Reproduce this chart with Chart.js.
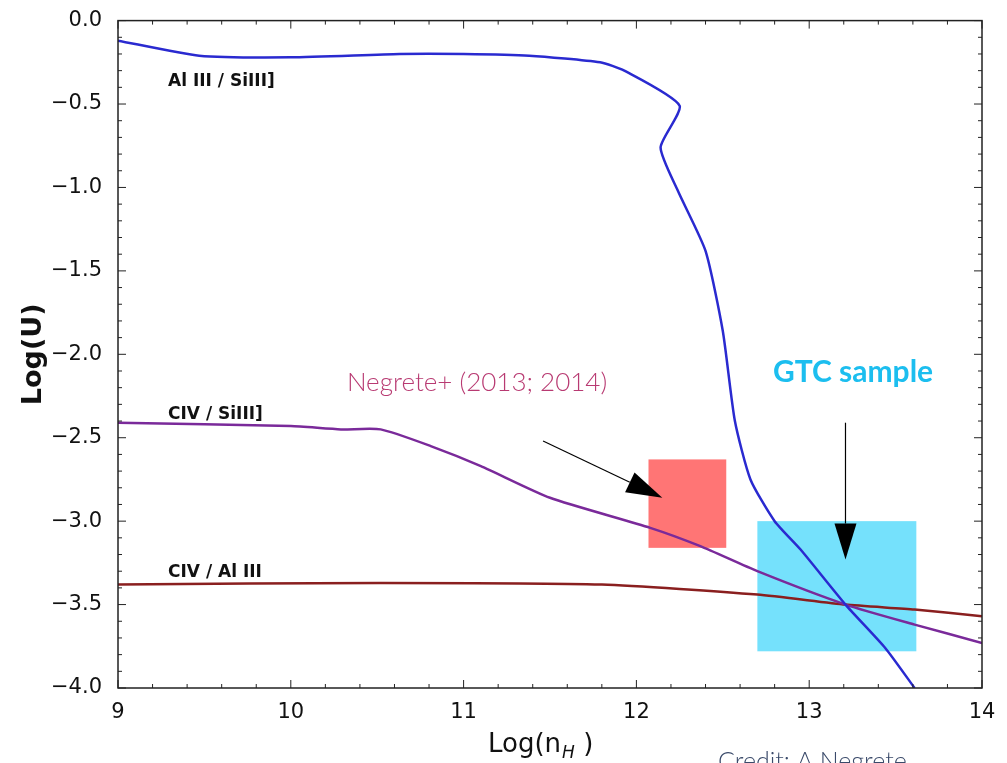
<!DOCTYPE html>
<html>
<head>
<meta charset="utf-8">
<script src="https://cdn.jsdelivr.net/npm/chart.js@4.4.1/dist/chart.umd.min.js"></script>
<style>
  html, body { margin: 0; padding: 0; background: #fff; }
  #wrap { width: 1007px; height: 763px; }
</style>
</head>
<body>
<div id="wrap"><canvas id="myChart" width="1007" height="763"></canvas></div>
<script>
// Curves: [Log(nH), Log(U)]
var alSiX = [9, 9.47, 10, 10.63, 11, 11.38, 11.79, 11.93, 12.25, 12.14, 12.24, 12.4, 12.5, 12.57, 12.66, 12.8, 12.95, 13.21, 13.44, 13.61];
var alSiY = [-0.12, -0.21, -0.22, -0.20, -0.2, -0.21, -0.25, -0.30, -0.51, -0.76, -1.02, -1.38, -1.86, -2.4, -2.75, -3.0, -3.17, -3.5, -3.76, -4.0];

var civSiX = [9, 10, 10.29, 10.52, 10.81, 11.1, 11.5, 12.08, 12.37, 12.7, 13.21, 13.61, 14];
var civSiY = [-2.41, -2.43, -2.45, -2.45, -2.55, -2.67, -2.86, -3.04, -3.15, -3.3, -3.5, -3.62, -3.73];

var civAlX = [9, 10.52, 11.8, 12.7, 13.21, 13.61, 14];
var civAlY = [-3.38, -3.37, -3.38, -3.44, -3.5, -3.53, -3.57];

// Sample regions [xmin, xmax, ymin, ymax]
var negreteBox = [12.07, 12.52, -3.16, -2.63];
var gtcBox = [12.7, 13.62, -3.78, -3.0];

// Arrows [x0, y0, x1, y1]
var negreteArrow = [11.46, -2.52, 12.15, -2.86];
var gtcArrow = [13.21, -2.41, 13.21, -3.23];

var xTicks = [9, 10, 11, 12, 13, 14];
var yTicks = [0, -0.5, -1, -1.5, -2, -2.5, -3, -3.5, -4];

function pts(xs, ys) {
    return xs.map(function (x, i) { return { x: x, y: ys[i] }; });
}

var decorPlugin = {
    id: 'decor',
    beforeDatasetsDraw: function (chart) {
        var c = chart.ctx, xs = chart.scales.x, ys = chart.scales.y;
        function box(b, color) {
            var l = xs.getPixelForValue(b[0]), r = xs.getPixelForValue(b[1]);
            var t = ys.getPixelForValue(b[3]), bt = ys.getPixelForValue(b[2]);
            c.fillStyle = color;
            c.fillRect(l, t, r - l, bt - t);
        }
        box(negreteBox, 'rgba(255,110,110,0.95)');
        box(gtcBox, 'rgba(110,223,252,0.95)');
    },
    afterDatasetsDraw: function (chart) {
        var c = chart.ctx, xs = chart.scales.x, ys = chart.scales.y, a = chart.chartArea;
        c.save();
        // frame and ticks
        c.strokeStyle = '#222';
        c.lineWidth = 1.5;
        c.strokeRect(a.left, a.top, a.right - a.left, a.bottom - a.top);
        c.lineWidth = 1;
        for (var v = 9; v <= 14.001; v += 0.2) {
            var px = xs.getPixelForValue(v);
            var major = Math.abs(v - Math.round(v)) < 0.01;
            var len = major ? 8 : 4;
            c.beginPath();
            c.moveTo(px, a.bottom); c.lineTo(px, a.bottom - len);
            c.moveTo(px, a.top); c.lineTo(px, a.top + len);
            c.stroke();
        }
        for (var w = 0; w >= -4.001; w -= 0.1) {
            var py = ys.getPixelForValue(w);
            var maj = Math.abs(w * 2 - Math.round(w * 2)) < 0.01;
            var ln = maj ? 8 : 4;
            c.beginPath();
            c.moveTo(a.left, py); c.lineTo(a.left + ln, py);
            c.moveTo(a.right, py); c.lineTo(a.right - ln, py);
            c.stroke();
        }
        // arrows
        function arrow(ar) {
            var x0 = xs.getPixelForValue(ar[0]), y0 = ys.getPixelForValue(ar[1]);
            var x1 = xs.getPixelForValue(ar[2]), y1 = ys.getPixelForValue(ar[3]);
            var ang = Math.atan2(y1 - y0, x1 - x0), hl = 36, hw = 11;
            c.strokeStyle = '#000'; c.fillStyle = '#000'; c.lineWidth = 1.2;
            c.beginPath(); c.moveTo(x0, y0);
            c.lineTo(x1 - hl * Math.cos(ang), y1 - hl * Math.sin(ang)); c.stroke();
            c.beginPath();
            c.moveTo(x1, y1);
            c.lineTo(x1 - hl * Math.cos(ang) - hw * Math.sin(ang), y1 - hl * Math.sin(ang) + hw * Math.cos(ang));
            c.lineTo(x1 - hl * Math.cos(ang) + hw * Math.sin(ang), y1 - hl * Math.sin(ang) - hw * Math.cos(ang));
            c.closePath(); c.fill();
        }
        arrow(negreteArrow);
        arrow(gtcArrow);
        // labels
        c.fillStyle = '#111';
        c.font = 'bold 17px "DejaVu Sans"';
        c.textBaseline = 'middle';
        c.fillText('Al III / SiIII]', 168, 82);
        c.fillText('CIV / SiIII]', 168, 415);
        c.fillText('CIV / Al III', 168, 573);
        // x-axis title with subscript
        c.font = '26px "DejaVu Sans"';
        c.textBaseline = 'alphabetic';
        c.fillText('Log(n', 488, 752);
        var wLog = c.measureText('Log(n').width;
        c.font = 'italic 17px "DejaVu Sans"';
        c.fillText('H', 488 + wLog + 1, 758);
        c.font = '26px "DejaVu Sans"';
        c.fillText(' )', 488 + wLog + 14, 752);
        c.textBaseline = 'middle';
        c.font = '300 26px Lato';
        c.fillStyle = '#b83a72';
        c.textAlign = 'center';
        c.fillText('Negrete+ (2013; 2014)', 477, 383);
        c.font = 'bold 30px Lato';
        c.fillStyle = '#1cbeef';
        c.fillText('GTC sample', 853, 372);
        c.font = '300 25px Lato';
        c.fillStyle = '#3a4a6a';
        c.textAlign = 'left';
        c.textBaseline = 'top';
        c.fillText('Credit: A Negrete', 718, 749);
        c.restore();
    }
};

new Chart(document.getElementById('myChart').getContext('2d'), {
    type: 'scatter',
    data: {
        datasets: [
            { label: 'Al III / SiIII]', data: pts(alSiX, alSiY), borderColor: '#2a2ad0', borderWidth: 2.5 },
            { label: 'CIV / SiIII]', data: pts(civSiX, civSiY), borderColor: '#7a2a9a', borderWidth: 2.5 },
            { label: 'CIV / Al III', data: pts(civAlX, civAlY), borderColor: '#8a1f1f', borderWidth: 2.5 }
        ].map(function (d) {
            d.showLine = true; d.pointRadius = 0; d.tension = 0.2; d.fill = false;
            return d;
        })
    },
    options: {
        responsive: false,
        animation: false,
        layout: { padding: { top: 20, right: 25, left: 14 } },
        plugins: { legend: { display: false }, tooltip: { enabled: false } },
        scales: {
            x: {
                type: 'linear', min: 9, max: 14,
                afterBuildTicks: function (s) { s.ticks = xTicks.map(function (v) { return { value: v }; }); },
                afterFit: function (s) { s.height = 75; },
                grid: { display: false }, border: { display: false },
                ticks: { color: '#111', font: { size: 21, family: 'DejaVu Sans' }, padding: 4 },
                title: { display: false }
            },
            y: {
                type: 'linear', min: -4, max: 0,
                afterBuildTicks: function (s) { s.ticks = yTicks.map(function (v) { return { value: v }; }); },
                afterFit: function (s) { s.width = 104; },
                grid: { display: false }, border: { display: false },
                ticks: {
                    color: '#111', font: { size: 21, family: 'DejaVu Sans' }, padding: 8,
                    callback: function (v) { return (v < 0 ? '\u2212' : '') + Math.abs(v).toFixed(1); }
                },
                title: { display: true, text: 'Log(U)', color: '#111', font: { size: 27, weight: 'bold', family: 'DejaVu Sans' } }
            }
        }
    },
    plugins: [decorPlugin]
});
</script>
</body>
</html>
